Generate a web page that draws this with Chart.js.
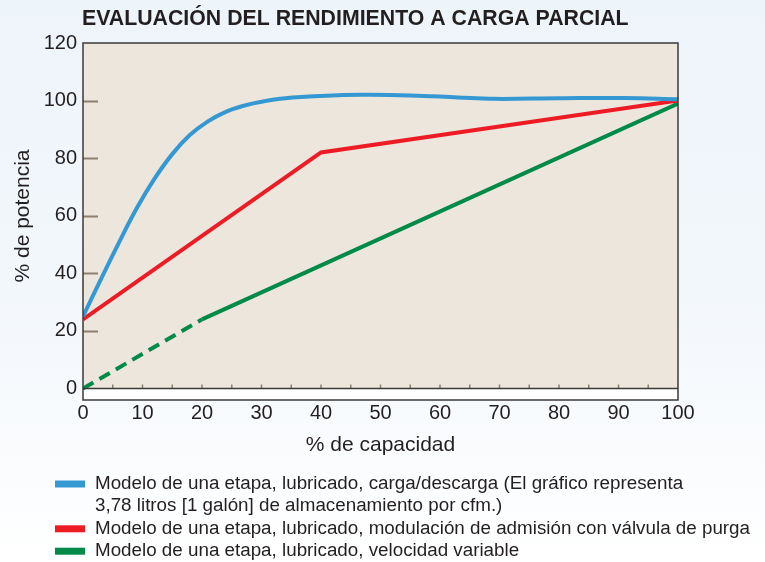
<!DOCTYPE html>
<html>
<head>
<meta charset="utf-8">
<script src="https://cdn.jsdelivr.net/npm/chart.js@4/dist/chart.umd.min.js"></script>
<style>
  html, body { margin: 0; padding: 0; }
  body { width: 765px; height: 562px; overflow: hidden; }
  #wrap { position: relative; width: 765px; height: 562px; }
</style>
</head>
<body>
<div id="wrap"><canvas id="myChart" width="765" height="562"></canvas></div>
<script>
// valores
var titleText = "EVALUACIÓN DEL RENDIMIENTO A CARGA PARCIAL";
var xTitle = "% de capacidad";
var yTitle = "% de potencia";
var xTicks = [0, 10, 20, 30, 40, 50, 60, 70, 80, 90, 100];
var yTicks = [0, 20, 40, 60, 80, 100, 120];

var blueX = [0, 3, 6, 9, 12, 15, 18, 21, 24, 27, 30, 34, 40, 47, 55, 63, 69, 80, 91, 100];
var blueY = [25, 37.9, 50.5, 62.5, 72.8, 81.4, 88.1, 92.8, 96.1, 98.2, 99.6, 100.8, 101.6, 102, 101.8, 101.1, 100.6, 100.8, 100.9, 100.5];
var redX = [0, 40, 100];
var redY = [24, 82, 100];
var greenX = [0, 20, 100];
var greenY = [0, 24, 99];

var legendLabels = [
    ["Modelo de una etapa, lubricado, carga/descarga (El gráfico representa", "3,78 litros [1 galón] de almacenamiento por cfm.)"],
    ["Modelo de una etapa, lubricado, modulación de admisión con válvula de purga"],
    ["Modelo de una etapa, lubricado, velocidad variable"]
];
var colors = ["#3499d3", "#ed1c24", "#008a47"];

var FONT = "'Liberation Sans', Arial, sans-serif";

function pts(xs, ys) {
    return xs.map(function (x, i) { return {x: x, y: ys[i]}; });
}

var decor = {
    id: "decor",
    beforeDraw: function (chart) {
        var c = chart.ctx, a = chart.chartArea;
        var y0 = chart.scales.y.getPixelForValue(0);
        c.save();
        var g = c.createLinearGradient(0, 0, 0, chart.height);
        g.addColorStop(0, "#edf4fa");
        g.addColorStop(0.6, "#f4f8fc");
        g.addColorStop(1, "#ffffff");
        c.fillStyle = g;
        c.fillRect(0, 0, chart.width, chart.height);
        c.fillStyle = "#ede6dd";
        c.fillRect(a.left, a.top, a.right - a.left, y0 - a.top);
        c.fillStyle = "#ffffff";
        c.fillRect(a.left, y0, a.right - a.left, a.bottom - y0);
        c.restore();
    },
    beforeDatasetsDraw: function (chart) {
        var c = chart.ctx, a = chart.chartArea;
        var xs = chart.scales.x, ys = chart.scales.y;
        var y0 = ys.getPixelForValue(0);
        c.save();
        c.strokeStyle = "#8f7f6c";
        c.lineWidth = 2;
        // marcas interiores del eje y
        yTicks.forEach(function (v) {
            if (v === 0 || v === 120) return;
            var p = Math.round(ys.getPixelForValue(v)) + 0.5;
            c.beginPath(); c.moveTo(a.left, p); c.lineTo(a.left + 15, p); c.stroke();
        });
        // marcas menores del eje x
        c.lineWidth = 1.5;
        for (var v = 5; v < 100; v += 5) {
            var px = xs.getPixelForValue(v);
            c.beginPath(); c.moveTo(px, y0); c.lineTo(px, y0 - 4); c.stroke();
        }
        c.restore();
    },
    afterDraw: function (chart) {
        var c = chart.ctx, a = chart.chartArea;
        var y0 = chart.scales.y.getPixelForValue(0);
        c.save();
        c.strokeStyle = "#3b3a3a";
        c.lineWidth = 1.5;
        c.strokeRect(a.left, a.top, a.right - a.left, a.bottom - a.top);
        c.beginPath(); c.moveTo(a.left, y0); c.lineTo(a.right, y0); c.stroke();

        c.fillStyle = "#231f20";
        c.font = "bold 21.3px " + FONT;
        c.textBaseline = "alphabetic";
        c.textAlign = "left";
        c.fillText(titleText, 82, 25);

        c.font = "21px " + FONT;
        c.textAlign = "center";
        c.textBaseline = "middle";
        c.fillText(xTitle, (a.left + a.right) / 2, 445);
        c.save();
        c.translate(23, 216);
        c.rotate(-Math.PI / 2);
        c.fillText(yTitle, 0, 0);
        c.restore();

        // leyenda
        c.font = "18px " + FONT;
        c.textAlign = "left";
        var wMax = c.measureText(legendLabels[1][0]).width;
        var sx = 655 / wMax;
        var row = 0;
        legendLabels.forEach(function (lines, i) {
            var yy = 484 + row * 22.4;
            c.fillStyle = colors[i];
            c.fillRect(55, yy - 3.5, 30, 7);
            c.fillStyle = "#231f20";
            lines.forEach(function (t) {
                var ty = 484 + row * 22.4;
                c.save();
                c.translate(95, ty);
                c.scale(sx, 1);
                c.fillText(t, 0, 0);
                c.restore();
                row++;
            });
        });
        c.restore();
    }
};

var ctx = document.getElementById("myChart").getContext("2d");

var lineChart = new Chart(ctx, {
    type: "line",
    data: {
        datasets: [
            {
                data: pts(blueX, blueY),
                borderColor: colors[0],
                borderWidth: 4,
                tension: 0.4,
                pointRadius: 0
            },
            {
                data: pts(redX, redY),
                borderColor: colors[1],
                borderWidth: 4,
                pointRadius: 0
            },
            {
                data: pts(greenX, greenY),
                borderColor: colors[2],
                borderWidth: 4,
                pointRadius: 0,
                segment: {
                    borderDash: function (s) { return s.p1.parsed.x <= 20 ? [12, 7] : []; }
                }
            }
        ]
    },
    options: {
        responsive: false,
        animation: false,
        layout: { padding: { left: 0, top: 43, right: 87, bottom: 132 } },
        plugins: { legend: { display: false }, tooltip: { enabled: false } },
        scales: {
            x: {
                type: "linear",
                min: 0,
                max: 100,
                grid: { display: false, drawTicks: false },
                border: { display: false },
                afterBuildTicks: function (s) { s.ticks = xTicks.map(function (v) { return {value: v}; }); },
                afterFit: function (s) { s.height = 30; },
                ticks: {
                    autoSkip: false,
                    maxRotation: 0,
                    padding: 1,
                    color: "#231f20",
                    font: { family: FONT, size: 20 }
                }
            },
            y: {
                type: "linear",
                min: -4,
                max: 120,
                grid: { display: false, drawTicks: false },
                border: { display: false },
                afterBuildTicks: function (s) { s.ticks = yTicks.map(function (v) { return {value: v}; }); },
                afterFit: function (s) { s.width = 83; },
                ticks: {
                    padding: 6,
                    color: "#231f20",
                    font: { family: FONT, size: 20 }
                }
            }
        }
    },
    plugins: [decor]
});
</script>
</body>
</html>
